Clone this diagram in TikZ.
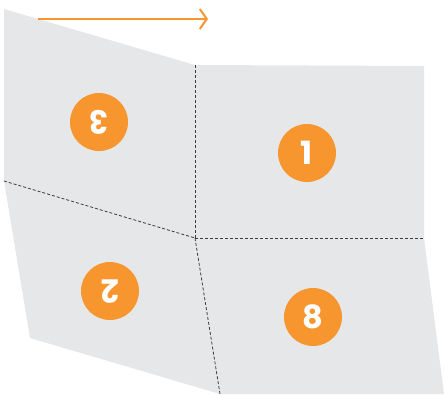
\documentclass[tikz,border=0pt]{standalone}
\usepackage{fontspec}
\setmainfont{Poppins}
\usetikzlibrary{arrows.meta}
\definecolor{foldorange}{HTML}{F7962F}
\definecolor{papergray}{HTML}{E6E7E8}
\definecolor{creasegray}{HTML}{3C3C3C}

\begin{document}
\begin{tikzpicture}[x=1pt, y=1pt,
  panelnum/.style={circle, fill=foldorange, text=white, minimum size=58pt, inner sep=0pt,
    font=\fontsize{32}{32}\selectfont\bfseries},
  crease/.style={creasegray, line width=0.8pt, dash pattern=on 3pt off 2pt}]
\useasboundingbox (0,0) rectangle (446,-394);

\coordinate (topleft) at (4,-9);
\coordinate (topmid) at (195,-65);
\coordinate (topright) at (424,-66);
\coordinate (midleft) at (4,-181);
\coordinate (centre) at (195,-238);
\coordinate (midright) at (424,-238);
\coordinate (botleft) at (30,-338);
\coordinate (botmid) at (220,-394);
\coordinate (botright) at (444,-394);

\fill[papergray] (topleft) -- (topmid) -- (topright) -- (midright) -- (botright)
  -- (botmid) -- (botleft) -- (midleft) -- cycle;

\draw[crease] (topmid) -- (centre);
\draw[crease] (centre) -- (botmid);
\draw[crease] (midleft) -- (centre);
\draw[crease] (centre) -- (midright);

\node[panelnum, rotate=180] (three) at (99,-122) {3};
\node[panelnum] (one) at (307,-153) {1};
\node[panelnum, rotate=180] (two) at (110,-291) {2};
\node[panelnum] (eight) at (313,-317) {8};

\coordinate (arrowstart) at (38,-19);
\coordinate (arrowend) at (208,-19);
\draw[-{Straight Barb[length=7pt, width=20pt]}, foldorange, line width=2pt] (arrowstart) -- (arrowend);

\end{tikzpicture}
\end{document}
